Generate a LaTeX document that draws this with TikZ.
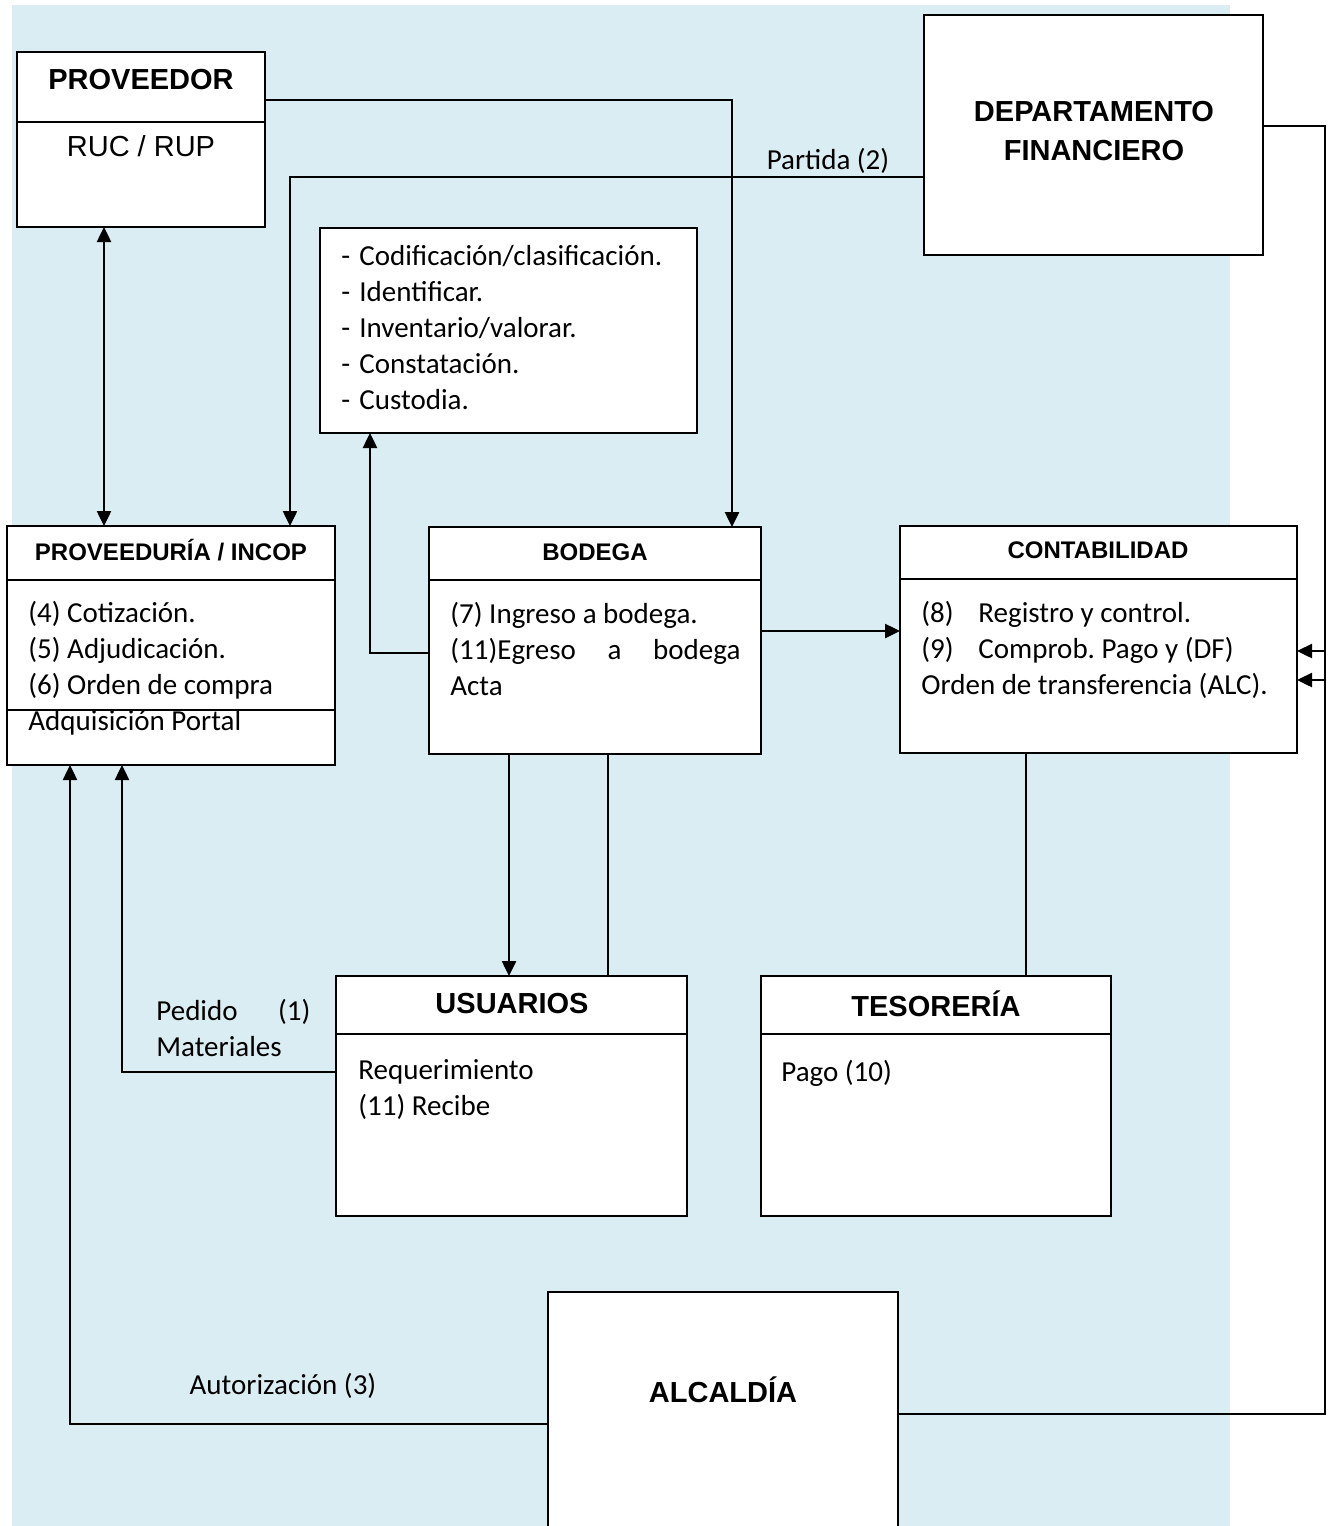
\documentclass[tikz,border=0pt]{standalone}
\usepackage{fontspec}
\setmainfont{Carlito}
\newfontfamily\arialf{Liberation Sans}
\usetikzlibrary{arrows.meta}
\definecolor{bgblue}{RGB}{218,237,243}
\newcommand{\dashitem}{\makebox[9pt][l]{-}}
\frenchspacing

\begin{document}
\begin{tikzpicture}
  [x=0.5pt, y=-0.5pt, >={Triangle[length=7.5pt,width=7pt]},
    box/.style={rectangle, draw=black, line width=1pt, fill=white, anchor=north west, inner sep=0pt, outer sep=0pt},
    ttl/.style={font=\arialf\bfseries\fontsize{14.5}{19.5}\selectfont, align=center},
    sttl/.style={font=\arialf\bfseries\fontsize{12}{14}\selectfont},
    txt/.style={font=\fontsize{14.5}{18}\selectfont, align=left, anchor=north west, inner sep=0pt},
    lbl/.style={font=\fontsize{14.5}{18}\selectfont, inner sep=0pt},
    conn/.style={line width=1.25pt},
    sep/.style={line width=1pt}
  ]

  \useasboundingbox (0,0) rectangle (1331,1526);
  \clip (0,0) rectangle (1331,1526);
  \fill[bgblue] (12,5) rectangle (1230,1530);

  % boxes
  \node[box, minimum width=124pt,   minimum height=87.5pt]  (prov) at (17,52)   {};
  \node[box, minimum width=169.5pt, minimum height=120pt]   (df)   at (924,15)  {};
  \node[box, minimum width=188.5pt, minimum height=102.5pt] (lst)  at (320,228) {};
  \node[box, minimum width=164pt,   minimum height=119.5pt] (pvd)  at (7,526)   {};
  \node[box, minimum width=166pt,   minimum height=113.5pt] (bod)  at (429,527) {};
  \node[box, minimum width=198.5pt, minimum height=113.5pt] (cont) at (900,526) {};
  \node[box, minimum width=175.5pt, minimum height=120pt]   (usr)  at (336,976) {};
  \node[box, minimum width=175pt,   minimum height=120pt]   (tes)  at (761,976) {};
  \node[box, minimum width=175pt,   minimum height=130pt]   (alc)  at (548,1292){};

  % dividers
  \draw[sep] (prov.west |- 0,122)  -- (prov.east |- 0,122);
  \draw[sep] (pvd.west |- 0,580)   -- (pvd.east |- 0,580);
  \draw[sep] (pvd.west |- 0,710)   -- (pvd.east |- 0,710);
  \draw[sep] (bod.west |- 0,580)   -- (bod.east |- 0,580);
  \draw[sep] (cont.west |- 0,579)  -- (cont.east |- 0,579);
  \draw[sep] (usr.west |- 0,1034)  -- (usr.east |- 0,1034);
  \draw[sep] (tes.west |- 0,1034)  -- (tes.east |- 0,1034);

  % titles and texts
  \node[ttl]  (provt) at (141,80)   {PROVEEDOR};
  \node[font=\arialf\fontsize{14.5}{18}\selectfont] (ruc) at (141,146) {RUC / RUP};
  \node[ttl]  (dft)   at (1094,131) {DEPARTAMENTO\\FINANCIERO};
  \node[txt]  (lstt)  at (341,245)  {\dashitem Codificación/clasificación.\\\dashitem Identificar.\\\dashitem Inventario/valorar.\\\dashitem Constatación.\\\dashitem Custodia.};
  \node[sttl] (pvdt)  at (171,550)  {PROVEEDURÍA / INCOP};
  \node[txt]  (pvdx)  at (28,601)   {(4) Cotización.\\(5) Adjudicación.\\(6) Orden de compra\\Adquisición Portal};
  \node[sttl] (bodt)  at (595,552)  {BODEGA};
  \node[txt]  (bodx)  at (450,602)  {(7) Ingreso a bodega.\\\makebox[145pt][s]{(11)Egreso a bodega}\\Acta};
  \node[sttl] (contt) at (1098,550) {CONTABILIDAD};
  \node[txt]  (contx) at (921,601)  {\makebox[28.5pt][l]{(8)}Registro y control.\\\makebox[28.5pt][l]{(9)}Comprob. Pago y (DF)\\Orden de transferencia (ALC).};
  \node[ttl]  (usrt)  at (512,1004) {USUARIOS};
  \node[txt]  (usrx)  at (358,1059) {Requerimiento\\(11) Recibe};
  \node[ttl]  (test)  at (936,1004) {TESORERÍA};
  \node[txt]  (tesx)  at (781,1060) {Pago (10)};
  \node[ttl]  (alct)  at (723,1390) {ALCALDÍA};

  % connectors
  \draw[conn,<->] (prov.south -| 104,0) -- (pvd.north -| 104,0);
  \draw[conn,->] (prov.east |- 0,100) -| (bod.north -| 732,0);
  \draw[conn,->] (df.west |- 0,177) -| (pvd.north -| 290,0);
  \node[lbl] (partida) at (828,161) {Partida (2)};
  \draw[conn,->] (bod.west |- 0,653) -| (lst.south -| 370,0);
  \draw[conn,->] (bod.east |- 0,631) -- (cont.west |- 0,631);
  \draw[conn,->] (bod.south -| 509,0) -- (usr.north -| 509,0);
  \draw[conn] (bod.south -| 608,0) -- (usr.north -| 608,0);
  \draw[conn] (cont.south -| 1026,0) -- (tes.north -| 1026,0);
  \draw[conn,->] (usr.west |- 0,1072) -| (pvd.south -| 122,0);
  \node[txt, text width=77pt] (pedido) at (156,999) {Pedido\hfill(1)\\Materiales};
  \draw[conn,->] (alc.west |- 0,1424) -| (pvd.south -| 70,0);
  \node[lbl] (autor) at (283,1386) {Autorización (3)};

  % right side bus
  \draw[conn] (df.east |- 0,126) -- (1325,126) coordinate (rtop) |- (alc.east |- 0,1414);
  \draw[conn,->] (rtop |- 0,651) -- (cont.east |- 0,651);
  \draw[conn,->] (rtop |- 0,680) -- (cont.east |- 0,680);

\end{tikzpicture}
\end{document}
